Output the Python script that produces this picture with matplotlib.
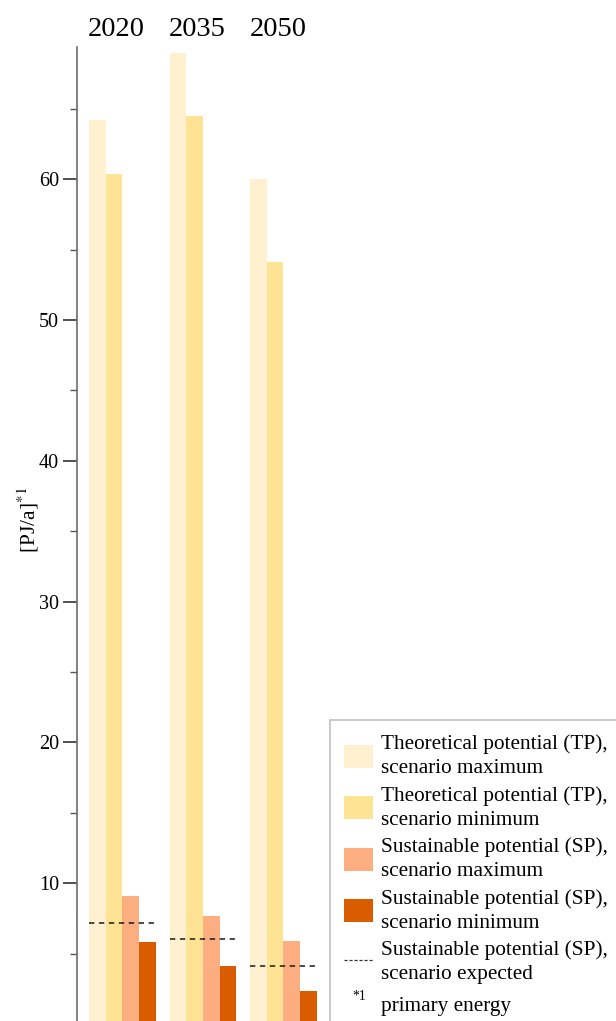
import matplotlib
matplotlib.use("Agg")
import matplotlib.pyplot as plt
import matplotlib.transforms as mtransforms
from matplotlib.patches import Patch
from matplotlib.lines import Line2D
from matplotlib.legend_handler import HandlerBase
import numpy as np

years = ["2020", "2035", "2050"]
tp_max = [64.2, 69.0, 60.05]
tp_min = [60.35, 64.5, 54.1]
sp_max = [9.1, 7.7, 5.9]
sp_min = [5.8, 4.15, 2.35]
sp_expected = [7.15, 6.05, 4.1]

series = [tp_max, tp_min, sp_max, sp_min]
colors = ["#fff0cf", "#ffe395", "#fdae80", "#da5c00"]
labels = [
    "Theoretical potential (TP),\nscenario maximum",
    "Theoretical potential (TP),\nscenario minimum",
    "Sustainable potential (SP),\nscenario maximum",
    "Sustainable potential (SP),\nscenario minimum",
]

plt.rcParams["font.family"] = ["Liberation Serif", "DejaVu Serif"]
plt.rcParams["mathtext.fontset"] = "stix"

W, H = 616, 1021
fig = plt.figure(figsize=(W / 100, H / 100), dpi=100)
# axes placed in pixel terms; bottom slightly below the figure (cropped like the source)
ax = fig.add_axes([77 / W, -3 / H, (W - 77) / W, 977 / H])

x = np.arange(len(years))
width = 0.207  # the width of the bars
for i, (vals, c) in enumerate(zip(series, colors)):
    ax.bar(x + (i - 1.5) * width, vals, width, color=c, linewidth=0)

# expected scenario as dashed line across each group
for xi, v in zip(x, sp_expected):
    ax.hlines(v, xi - 2 * width, xi + 2 * width, colors="#1a1a1a",
              linestyles=(0, (3.5, 3)), linewidth=1.1)

ax.set_xlim(-0.563, 6.13)
ax.set_ylim(0, 69.4)

ax.spines["top"].set_visible(False)
ax.spines["right"].set_visible(False)
ax.spines["bottom"].set_visible(False)
ax.spines["left"].set_color("#6b6b6b")
ax.spines["left"].set_linewidth(1.2)
ax.set_xticks([])
ax.set_yticks([10, 20, 30, 40, 50, 60])
ax.set_yticks([5, 15, 25, 35, 45, 55, 65], minor=True)
ax.tick_params(axis="y", which="major", length=10, width=1.2, color="#333333",
               labelsize=14.5, pad=3)
ax.tick_params(axis="y", which="minor", length=5, width=1.0, color="#555555")

ax.set_ylabel("[PJ/a]$^{*1}$", fontsize=15.5)
ax.yaxis.set_label_coords(-0.066, 0.516)

# year labels on top of each group
trans = mtransforms.blended_transform_factory(ax.transData, ax.transAxes)
for xi, yr in zip(x, years):
    ax.text(xi - 0.07, 1.018, yr, transform=trans, ha="center", va="center",
            fontsize=20.5, clip_on=False)


class TextHandler(HandlerBase):
    def create_artists(self, legend, orig_handle, xdescent, ydescent, width,
                       height, fontsize, trans):
        t = plt.Text(width * 0.5, height * 0.6, "*1", fontsize=fontsize * 0.65,
                     ha="center", va="center", transform=trans)
        return [t]


class Footnote:
    pass


handles = [Patch(facecolor=c, edgecolor="none") for c in colors]
handles.append(Line2D([0], [0], color="#333333", linestyle=(0, (2.5, 1.5)), linewidth=0.9))
handles.append(Footnote())
leg_labels = labels + ["Sustainable potential (SP),\nscenario expected", "primary energy"]

leg = fig.legend(handles, leg_labels, loc="upper left",
                 bbox_to_anchor=(330 / W, 1 - 720 / H), borderaxespad=0,
                 fontsize=15.3, frameon=True, fancybox=False,
                 edgecolor="#b0b0b0", handlelength=1.35, handleheight=1.3,
                 handletextpad=0.38, labelspacing=0.37, borderpad=0.68,
                 handler_map={Footnote: TextHandler()})
leg.get_frame().set_linewidth(1.2)
for t in leg.get_texts():
    t.set_linespacing(1.35)

fig.savefig("out.png", dpi=100)
